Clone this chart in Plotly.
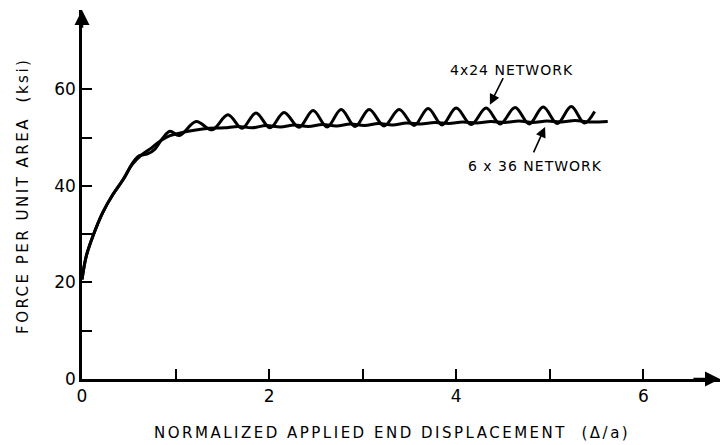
import plotly.graph_objects as go

# ---- data ----
x_4x24 = [0.0, 0.045, 0.115, 0.22, 0.33, 0.44, 0.54, 0.61, 0.70, 0.78, 0.86, 0.94, 1.04,
          1.22, 1.39, 1.56, 1.71, 1.86, 2.01, 2.16, 2.32, 2.47, 2.62, 2.77, 2.92, 3.07,
          3.23, 3.39, 3.55, 3.70, 3.85, 4.00, 4.16, 4.32, 4.47, 4.63, 4.78, 4.93, 5.08,
          5.23, 5.37, 5.48]
y_4x24 = [20.6, 25.4, 29.5, 34.4, 38.2, 41.3, 44.7, 46.2, 46.6, 47.6, 49.8, 51.3, 50.4,
          53.3, 51.6, 54.7, 51.9, 55.1, 52.0, 55.2, 52.1, 55.6, 52.2, 55.8, 52.3, 55.8,
          52.4, 55.8, 52.5, 56.0, 52.6, 56.1, 52.7, 56.1, 52.8, 56.2, 52.8, 56.3, 52.9,
          56.4, 53.0, 55.4]

x_6x36 = [0.0, 0.045, 0.115, 0.22, 0.33, 0.44, 0.54, 0.65, 0.74, 0.83, 0.94, 1.04, 1.20,
          1.36, 1.52, 1.67, 1.82, 1.97, 2.12, 2.27, 2.42, 2.57, 2.72, 2.87, 3.02, 3.17,
          3.32, 3.47, 3.62, 3.77, 3.92, 4.07, 4.22, 4.37, 4.52, 4.67, 4.82, 4.97, 5.12,
          5.27, 5.42, 5.62]
y_6x36 = [20.6, 25.4, 29.5, 34.4, 38.2, 41.3, 44.5, 46.6, 47.8, 49.2, 50.4, 50.9, 51.5,
          51.9, 52.0, 52.3, 52.0, 52.5, 52.2, 52.6, 52.3, 52.7, 52.4, 52.8, 52.5, 52.9,
          52.6, 53.0, 52.8, 53.1, 52.9, 53.2, 53.0, 53.3, 53.1, 53.4, 53.1, 53.4, 53.2,
          53.5, 53.2, 53.3]

x_ticks = [0, 2, 4, 6]
x_minor = [1, 3, 5]
y_ticks = [0, 20, 40, 60]
y_minor = [10, 30, 50]
x_title = "NORMALIZED APPLIED END DISPLACEMENT  (\u0394/a)"
y_title = "FORCE PER UNIT AREA  (ksi)"
label_4x24 = "4x24 NETWORK"
label_6x36 = "6 x 36 NETWORK"

X_MAX = 6.82
Y_MAX = 76.4

FONT = "DejaVu Sans"


def spaced(text, px):
    return '<span style="letter-spacing:%spx">%s</span>' % (px, text)


fig = go.Figure()
for xs, ys in [(x_4x24, y_4x24), (x_6x36, y_6x36)]:
    fig.add_trace(go.Scatter(x=xs, y=ys, mode="lines",
                             line=dict(color="black", width=3, shape="spline", smoothing=1.0),
                             showlegend=False, hoverinfo="skip"))

axis_common = dict(showgrid=False, zeroline=False, showline=True, linecolor="black",
                   linewidth=2.5, ticks="inside", ticklen=10, tickwidth=2, tickcolor="black",
                   tickfont=dict(family=FONT, size=17, color="black"))
fig.update_xaxes(range=[0, X_MAX], tickvals=x_ticks, ticktext=[str(v) for v in x_ticks],
                 minor=dict(tickvals=x_minor, ticks="inside", ticklen=10, tickwidth=2,
                            tickcolor="black"),
                 **axis_common)
fig.update_yaxes(range=[0, Y_MAX], tickvals=y_ticks, ticktext=[str(v) for v in y_ticks],
                 minor=dict(tickvals=y_minor, ticks="inside", ticklen=10, tickwidth=2,
                            tickcolor="black"),
                 **axis_common)

# axis arrowheads
fig.add_annotation(x=X_MAX, y=0, ax=X_MAX - 0.3, ay=0, xref="x", yref="y", axref="x", ayref="y",
                   showarrow=True, arrowhead=2, arrowsize=1.2, arrowwidth=2.5, arrowcolor="black", text="")
fig.add_annotation(x=0, y=Y_MAX, ax=0, ay=Y_MAX - 4, xref="x", yref="y", axref="x", ayref="y",
                   showarrow=True, arrowhead=2, arrowsize=1.2, arrowwidth=2.5, arrowcolor="black", text="")

# network labels with arrows
fig.add_annotation(x=4.36, y=56.8, ax=4.51, ay=62.6, xref="x", yref="y", axref="x", ayref="y",
                   showarrow=True, arrowhead=2, arrowsize=1.3, arrowwidth=1.6, arrowcolor="black", text="")
fig.add_annotation(x=4.59, y=64.0, xref="x", yref="y", text=spaced(label_4x24, 1), showarrow=False,
                   font=dict(family=FONT, size=14, color="black"))
fig.add_annotation(x=4.95, y=52.2, ax=4.82, ay=46.6, xref="x", yref="y", axref="x", ayref="y",
                   showarrow=True, arrowhead=2, arrowsize=1.3, arrowwidth=1.6, arrowcolor="black", text="")
fig.add_annotation(x=4.84, y=44.0, xref="x", yref="y", text=spaced(label_6x36, 1), showarrow=False,
                   font=dict(family=FONT, size=14, color="black"))

# axis titles (pixel positions converted to paper coordinates)
PL, PR, PT, PB = 82, 2, 10, 66
pw, ph = 722 - PL - PR, 445 - PT - PB
fig.add_annotation(x=(23 - PL) / pw, y=(445 - PB - 196) / ph, xref="paper", yref="paper",
                   xanchor="center", yanchor="middle",
                   text=spaced(y_title, 2.5), textangle=-90, showarrow=False,
                   font=dict(family=FONT, size=15, color="black"))
fig.add_annotation(x=(392 - PL) / pw, y=-(433 - (445 - PB)) / ph, xref="paper", yref="paper",
                   xanchor="center", yanchor="middle",
                   text=spaced(x_title, 2.5), showarrow=False,
                   font=dict(family=FONT, size=15, color="black"))

fig.update_layout(width=722, height=445, margin=dict(l=PL, r=PR, t=PT, b=PB),
                  plot_bgcolor="white", paper_bgcolor="white")

fig.write_html("out.html")
